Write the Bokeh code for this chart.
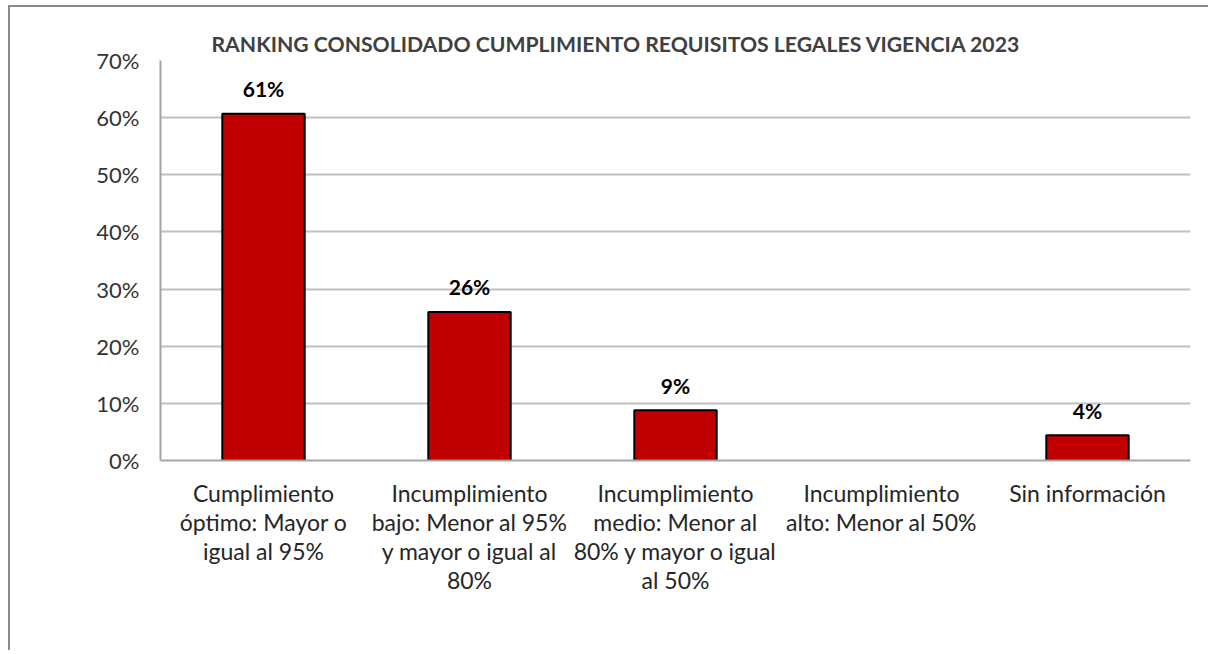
from bokeh.plotting import figure
from bokeh.models import NumeralTickFormatter, FixedTicker, ColumnDataSource
from bokeh.core.properties import value
from bokeh.embed import file_html
from bokeh.resources import INLINE

title = "RANKING CONSOLIDADO CUMPLIMIENTO REQUISITOS LEGALES VIGENCIA 2023"
categories = [
    "Cumplimiento\nóptimo: Mayor o\nigual al 95%",
    "Incumplimiento\nbajo: Menor al 95%\ny mayor o igual al\n80%",
    "Incumplimiento\nmedio: Menor al\n80% y mayor o igual\nal 50%",
    "Incumplimiento\nalto: Menor al 50%",
    "Sin información",
]
values = [0.607, 0.26, 0.088, 0.0, 0.044]
y_ticks = [0, 0.1, 0.2, 0.3, 0.4, 0.5, 0.6, 0.7]

FONT = "Lato"

p = figure(
    x_range=categories, y_range=(0, 0.7),
    width=1200, height=645,
    output_backend="svg", toolbar_location=None,
    min_border_left=150, min_border_right=20, min_border_top=53, min_border_bottom=192,
)
p.styles = {"border-top": "2px solid #8c8c8c", "border-left": "2px solid #8c8c8c",
            "margin-left": "8px", "margin-top": "5px"}

bar_line = ["black" if v > 0 else None for v in values]
src = ColumnDataSource(dict(cat=categories, val=values, lc=bar_line))
p.vbar(x="cat", top="val", width=0.4, source=src, fill_color="#C00000",
       line_color="lc", line_width=2)

lab_cats = [c for c, v in zip(categories, values) if v > 0]
lab_vals = [v for v in values if v > 0]
lab_txt = [f"{round(v * 100):.0f}%" for v in lab_vals]
p.text(x=lab_cats, y=lab_vals, text=lab_txt, text_align="center", text_baseline="alphabetic",
       y_offset=-25, text_font=value(FONT), text_font_style="bold", text_font_size="21px",
       text_color="black")

p.title.text = title
p.title.text_font = FONT
p.title.text_font_style = "bold"
p.title.text_font_size = "21.2px"
p.title.text_color = "#404040"
p.title.align = "left"
p.title.offset = 51
p.title.standoff = 8

p.yaxis.ticker = FixedTicker(ticks=y_ticks)
p.yaxis.formatter = NumeralTickFormatter(format="0%")
p.yaxis.major_tick_line_color = None
p.yaxis.minor_tick_line_color = None
p.yaxis.axis_line_color = "#a6a6a6"
p.yaxis.axis_line_width = 2
p.yaxis.major_label_standoff = 15
p.yaxis.major_label_text_font = FONT
p.yaxis.major_label_text_font_size = "22px"
p.yaxis.major_label_text_color = "#333333"

p.xaxis.major_tick_line_color = None
p.xaxis.minor_tick_line_color = None
p.xaxis.axis_line_color = "#a6a6a6"
p.xaxis.axis_line_width = 2
p.xaxis.major_label_standoff = 12
p.xaxis.major_label_text_font = FONT
p.xaxis.major_label_text_font_size = "23px"
p.xaxis.major_label_text_color = "#262626"
p.xaxis.major_label_text_line_height = 1.04

p.xgrid.grid_line_color = None
p.ygrid.ticker = FixedTicker(ticks=y_ticks)
p.ygrid.grid_line_color = "#c0c0c0"
p.ygrid.grid_line_width = 2
p.outline_line_color = None
p.x_range.range_padding = 0

open("out.html", "w").write(file_html(p, INLINE))
